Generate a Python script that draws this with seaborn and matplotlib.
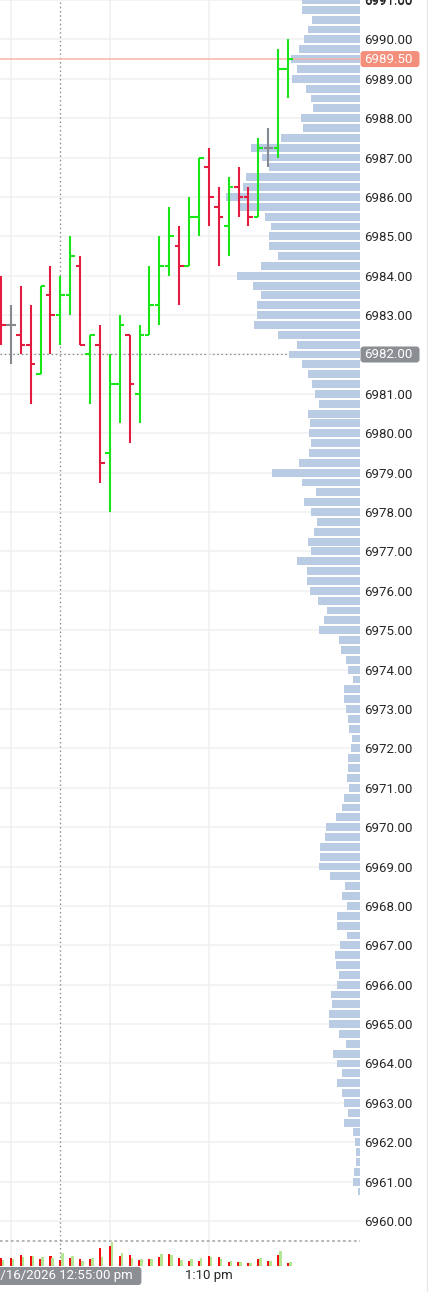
import matplotlib
matplotlib.use("Agg")
import matplotlib.pyplot as plt
from matplotlib.patches import FancyBboxPatch
from matplotlib.transforms import blended_transform_factory, IdentityTransform
from matplotlib.lines import Line2D
import numpy as np
import pandas as pd
import seaborn as sns

# ---------------- data ----------------
times = ["12:49", "12:50", "12:51", "12:52", "12:53", "12:54", "12:55", "12:56", "12:57", "12:58",
         "12:59", "1:00", "1:01", "1:02", "1:03", "1:04", "1:05", "1:06", "1:07", "1:08",
         "1:09", "1:10", "1:11", "1:12", "1:13", "1:14", "1:15", "1:16", "1:17", "1:18"]
opens = [6983.50, 6982.75, 6982.50, 6982.25, 6981.50, 6983.50, 6983.00, 6983.50, 6984.25, 6982.00,
         6982.25, 6979.50, 6981.25, 6982.50, 6981.00, 6982.50, 6983.25, 6984.25, 6984.75, 6984.25,
         6985.50, 6986.75, 6985.75, 6985.25, 6986.25, 6986.00, 6985.50, 6987.25, 6987.25, 6989.25]
highs = [6984.00, 6983.25, 6983.75, 6983.25, 6983.75, 6984.25, 6984.00, 6985.00, 6984.50, 6982.50,
         6982.75, 6982.00, 6983.00, 6982.50, 6982.75, 6984.25, 6985.00, 6985.75, 6985.25, 6986.00,
         6987.00, 6987.25, 6986.25, 6986.50, 6986.75, 6986.25, 6987.50, 6987.75, 6989.75, 6990.00]
lows = [6982.25, 6981.75, 6982.00, 6980.75, 6981.50, 6982.00, 6982.25, 6983.00, 6982.25, 6980.75,
        6978.75, 6978.00, 6980.25, 6979.75, 6980.25, 6982.50, 6982.75, 6984.00, 6983.25, 6984.25,
        6985.00, 6985.25, 6984.25, 6984.50, 6985.50, 6985.25, 6985.50, 6986.75, 6987.00, 6988.50]
closes = [6982.75, 6982.75, 6982.25, 6981.75, 6983.75, 6983.00, 6983.50, 6984.50, 6982.25, 6982.50,
          6979.25, 6981.25, 6982.75, 6981.25, 6982.50, 6983.25, 6984.25, 6985.00, 6984.25, 6985.50,
          6987.00, 6986.00, 6985.50, 6986.25, 6986.00, 6985.50, 6987.25, 6987.25, 6989.25, 6989.50]
vol_sell = [24, 24, 32, 30, 22, 30, 18, 24, 20, 20, 54, 60, 30, 32, 18,
            20, 28, 36, 24, 16, 16, 30, 28, 12, 12, 10, 20, 16, 34, 10]
vol_buy = [18, 22, 28, 30, 28, 24, 40, 30, 16, 24, 28, 72, 38, 24, 20,
           22, 36, 34, 18, 20, 24, 26, 22, 14, 12, 10, 24, 16, 46, 12]

profile_top = 6991.00
profile_volume = [
    58.5, 59, 48.5, 52.5, 56.5, 61.5, 70, 64, 68.5, 55, 50, 47.5, 59.5, 57.5, 80, 110,
    98.5, 92, 114.5, 117.5, 134.5, 120.5, 96, 89.5, 91.5, 92, 82.5, 100, 123.5, 108, 99.5, 103.5,
    104, 106.5, 83, 63.5, 71.5, 59, 53, 48.5, 45.5, 42, 53, 50.5, 51.5, 49.5, 52, 61.5,
    89, 58.5, 45, 57, 50, 43.5, 46.5, 53, 50, 64, 54, 53.5, 51, 43, 33.5, 37,
    42, 21.5, 20, 14.5, 13, 8, 17, 16.5, 15, 13, 12, 9, 10, 13, 12.5, 14,
    12, 16.5, 19, 25, 34.5, 35.5, 41, 41, 42, 31, 16, 19, 14, 23.5, 24, 14,
    21, 25.5, 25, 22, 24, 30, 29, 32, 32, 22, 14.5, 28, 23.5, 19, 24, 18.5,
    16.5, 13, 17, 7.5, 5.5, 5, 4.5, 6.5, 8, 2.5, 0.7]
profile_prices = profile_top - 0.25 * np.arange(len(profile_volume))

price_ticks = list(range(6960, 6992))
last_price = 6989.50
cross_price = 6982.00
cross_bar = 6
cross_label = "1/16/2026 12:55:00 pm"
time_ticks = [1, 11, 21]
time_labels = ["", "", "1:10 pm"]

# ---------------- style ----------------
sns.set_theme(style="white")
plt.rcParams["font.family"] = ["Roboto", "DejaVu Sans"]

UP = "#19e619"
DOWN = "#e31b3e"
FLAT = "#858a91"
GRID = "#f0f0f0"
TEXT = "#262626"

W, H = 428, 1292
fig = plt.figure(figsize=(W / 100, H / 100), dpi=100)
fig.patch.set_facecolor("white")


def rect(x0, y0, x1, y1):
    return [x0 / W, 1 - y1 / H, (x1 - x0) / W, (y1 - y0) / H]


ax_prof = fig.add_axes(rect(0, 0, 360, 1236))
ax = fig.add_axes(rect(0, 0, 360, 1236), sharey=ax_prof)
ax.set_facecolor("none")
ax_vol = fig.add_axes(rect(0, 1236, 360, 1266), sharex=ax)
ax_vol.set_facecolor("none")

ymax = 6990 + 36 / 39.5
ymin = 6990 - 1200 / 39.5
ax_prof.set_ylim(ymin, ymax)
ax.set_xlim(-1 / 9.9, 359 / 9.9)

# ---- volume profile (bottom layer) ----
df_prof = pd.DataFrame({"price": profile_prices, "volume": profile_volume})
ax_prof.barh(df_prof["price"], df_prof["volume"], height=0.2, left=0,
             color="#b9cce4", linewidth=0, zorder=2)
ax_prof.set_xlim(360.5, 0.5)
ax_prof.set_yticks(price_ticks)
ax_prof.set_yticklabels([f"{v:.2f}" for v in price_ticks])
ax_prof.yaxis.tick_right()
ax_prof.tick_params(axis="y", right=False, left=False, labelright=True, labelleft=False,
                    length=0, pad=2.8, labelsize=9.5, labelcolor=TEXT)
ax_prof.set_xticks([])
ax_prof.grid(axis="y", color=GRID, linewidth=1.1)
ax_prof.grid(axis="x", visible=False)
ax_prof.set_axisbelow(True)
ax_prof.axhline(cross_price, color="#8a8a8a", linewidth=0.9, linestyle=(0, (1.2, 2.2)), zorder=1)
for s in ax_prof.spines.values():
    s.set_visible(False)

# partial top label (cut by the figure edge as in the reference)
ax_prof.text(1 + 3.9 / 360, 6991, "6991.00",
             transform=blended_transform_factory(ax_prof.transAxes, ax_prof.transData),
             ha="left", va="center", fontsize=9.5, color=TEXT, clip_on=False)

# ---- OHLC bars ----
x = np.arange(len(times))
df = pd.DataFrame({"x": x, "o": opens, "h": highs, "l": lows, "c": closes})
cols = [UP if c > o else (DOWN if c < o else FLAT) for o, c in zip(opens, closes)]
tick = 0.47
ax.vlines(df["x"], df["l"], df["h"], colors=cols, linewidth=1.5, zorder=4, capstyle="butt")
ax.hlines(df["o"], df["x"] - tick, df["x"], colors=cols, linewidth=1.5, zorder=4)
ax.hlines(df["c"], df["x"], df["x"] + tick, colors=cols, linewidth=1.5, zorder=4)

ax.set_xticks(time_ticks)
ax.grid(axis="x", color=GRID, linewidth=1.1)
ax.grid(axis="y", visible=False)
ax.set_axisbelow(True)
ax.tick_params(axis="x", bottom=False, labelbottom=False, length=0)
ax.tick_params(axis="y", left=False, right=False, labelleft=False, labelright=False)
for s in ax.spines.values():
    s.set_visible(False)

ax.axvline(cross_bar, color="#8a8a8a", linewidth=0.9, linestyle=(0, (1.2, 2.2)), zorder=3)
ax.axhline(last_price, color="#f6ae9f", linewidth=1.1, alpha=0.9, zorder=3)

# ---- volume pane ----
ax_vol.bar(x, vol_sell, width=0.24, color="#f50d0d", linewidth=0, zorder=3)
ax_vol.bar(x + 0.22, vol_buy, width=0.26, color="#b5e792", linewidth=0, zorder=3)
ax_vol.set_ylim(0, 90)
ax_vol.axhline(75, color="#b5b5b5", linewidth=1.4, linestyle=(0, (1.4, 1.4)), zorder=1)
ax_vol.axvline(cross_bar, color="#8a8a8a", linewidth=0.9, linestyle=(0, (1.2, 2.2)), zorder=2)
ax_vol.set_xticks(time_ticks)
ax_vol.set_xticklabels(time_labels)
ax_vol.grid(axis="x", color=GRID, linewidth=1.1)
ax_vol.grid(axis="y", visible=False)
ax_vol.set_axisbelow(True)
ax_vol.set_yticks([])
ax_vol.tick_params(axis="x", length=0, pad=2.5, labelsize=9.5, labelcolor=TEXT)
for s in ax_vol.spines.values():
    s.set_visible(False)

# ---- price label boxes ----
fig.canvas.draw()
for price, fc in [(last_price, "#f48f7b"), (cross_price, "#8b8e93")]:
    yd = ax_prof.transData.transform((0, price))[1]
    box = FancyBboxPatch((360.5, yd - 8), 59, 16, boxstyle="round,pad=0,rounding_size=3",
                         transform=IdentityTransform(), facecolor=fc, edgecolor="none", zorder=10)
    fig.add_artist(box)
    fig.text(364.5, yd, f"{price:.2f}", transform=IdentityTransform(), ha="left", va="center",
             fontsize=9.5, color="white", zorder=11)

# ---- crosshair time label ----
xd = ax.transData.transform((cross_bar, 0))[0]
box = FancyBboxPatch((-12, 7), xd + 81 + 12, 18, boxstyle="round,pad=0,rounding_size=3",
                     transform=IdentityTransform(), facecolor="#8b8e93", edgecolor="none", zorder=10)
fig.add_artist(box)
fig.text(xd + 72, 16, cross_label, transform=IdentityTransform(), ha="right", va="center",
         fontsize=9.5, color="white", zorder=11)

# right border
fig.add_artist(Line2D([426.5, 426.5], [0, H], transform=IdentityTransform(), color="#e6e6e6", linewidth=1))

fig.savefig("out.png", dpi=100, facecolor="white")
